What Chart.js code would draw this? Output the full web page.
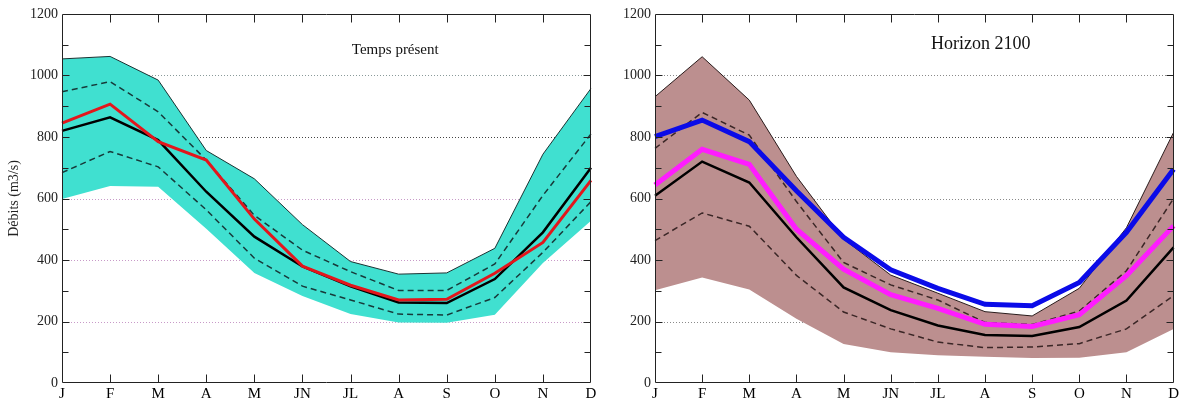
<!DOCTYPE html>
<html><head><meta charset="utf-8">
<script src="https://cdn.jsdelivr.net/npm/chart.js@4.4.1/dist/chart.umd.min.js"></script>
<style>
html,body{margin:0;padding:0;background:#fff;}
#wrap{position:relative;width:1181px;height:403px;overflow:hidden;}
.pane{position:absolute;top:0;height:403px;}
</style></head><body>
<div id="wrap">
  <div class="pane" style="left:0;width:600px"><canvas id="c1" width="600" height="403"></canvas></div>
  <div class="pane" style="left:600px;width:581px"><canvas id="c2" width="581" height="403"></canvas></div>
</div>
<script>
// ---- data ----
const months = ['J','F','M','A','M','JN','JL','A','S','O','N','D'];
const yTicks = [0,200,400,600,800,1000,1200];

// Temps présent
const presentMax    = [1054,1062,985,756,664,515,395,354,358,438,744,958];
const presentMin    = [598,641,638,502,358,283,224,197,196,222,390,528];
const presentQ75    = [947,980,882,725,545,432,362,301,301,387,610,810];
const presentQ25    = [684,753,703,563,406,315,270,224,221,278,425,590];
const presentMedian = [820,864,790,622,476,379,314,262,260,338,490,700];
const presentObs    = [845,907,785,725,533,380,318,270,272,357,457,659];

// Horizon 2100
const futureMax     = [931,1061,920,672,468,351,292,232,218,308,505,815];
const futureMin     = [302,343,304,209,127,100,90,85,81,82,100,176];
const futureQ75     = [763,880,806,590,392,319,270,197,190,234,365,600];
const futureQ25     = [463,553,510,350,231,176,133,115,117,128,176,284];
const futureMedian  = [609,720,652,474,311,237,187,156,153,182,268,441];
const futureMagenta = [644,760,711,500,370,287,243,191,184,222,349,511];
const futureBlue    = [801,855,785,625,474,368,308,256,251,327,490,695];

const SERIF = '"Liberation Serif","DejaVu Serif",serif';

const frameTicks = {
  id:'frameTicks',
  beforeDatasetsDraw(chart, args, opts){
    const {ctx, chartArea:a, scales:{y}} = chart;
    ctx.save();
    ctx.lineWidth = 1;
    ctx.setLineDash([1,2]);
    yTicks.forEach(v=>{
      if (v===0 || v===1200) return;
      const py = Math.round(y.getPixelForValue(v))+0.5;
      ctx.strokeStyle = opts.gridColor(v);
      ctx.beginPath(); ctx.moveTo(a.left,py); ctx.lineTo(a.right,py); ctx.stroke();
    });
    ctx.restore();
  },
  afterDraw(chart, args, opts){
    const {ctx, chartArea:a, scales:{x,y}} = chart;
    ctx.save();
    ctx.strokeStyle = '#222'; ctx.lineWidth = 1; ctx.setLineDash([]);
    const ln=(x1,y1,x2,y2)=>{ctx.beginPath();ctx.moveTo(x1,y1);ctx.lineTo(x2,y2);ctx.stroke();};
    const L=Math.round(a.left)+0.5, R=Math.round(a.right)-0.5, T=Math.round(a.top)+0.5, B=Math.round(a.bottom)-0.5;
    ln(L,T,R,T); ln(R,T,R,B); ln(R,B,L,B); ln(L,B,L,T);
    for(let i=1;i<months.length-1;i++){
      const px=Math.round(x.getPixelForValue(i))+0.5;
      ln(px,B,px,B-8); ln(px,T,px,T+8);
    }
    for(let v=100; v<1200; v+=100){
      const py=Math.round(y.getPixelForValue(v))+0.5;
      const len = v%200===0 ? 7 : 6;
      ln(L,py,L+len,py); ln(R,py,R-len,py);
    }
    ctx.fillStyle='#111';
    ctx.font = opts.titleFont;
    ctx.textAlign='center'; ctx.textBaseline='middle';
    ctx.fillText(opts.title, a.left + (a.right-a.left)*opts.titleFx, opts.titleY);
    ctx.restore();
  }
};

function baseOptions(yWidth, padRight, showTitle){
  return {
    responsive:false, animation:false, devicePixelRatio:1,
    layout:{padding:{left:0,right:padRight,top:14,bottom:0}},
    plugins:{legend:{display:false}, tooltip:{enabled:false}, filler:{propagate:false}},
    elements:{point:{radius:0}, line:{tension:0}},
    scales:{
      x:{
        offset:false,
        grid:{display:false, drawTicks:false}, border:{display:false},
        ticks:{color:'#000', font:{family:SERIF,size:15}, padding:2, maxRotation:0, autoSkip:false},
        afterFit(s){ s.height = 20; }
      },
      y:{
        min:0, max:1200,
        grid:{display:false, drawTicks:false}, border:{display:false},
        afterBuildTicks(s){ s.ticks = yTicks.map(v=>({value:v})); },
        ticks:{color:'#222', font:{family:SERIF,size:14}, padding:4, callback:v=>String(v)},
        title:{display:showTitle, text:'Débits (m3/s)', color:'#222', font:{family:SERIF,size:14}, padding:{top:6,bottom:0}},
        afterFit(s){ s.width = yWidth; }
      }
    }
  };
}

// ---- left chart ----
const opt1 = baseOptions(62, 9, true);
opt1.plugins.frameTicks = {
  title:'Temps présent', titleFont:'15px '+SERIF, titleFx:0.63, titleY:50,
  gridColor:v=> v<=600 ? '#c89ac8' : (v===800 ? '#444' : '#8a9a9a')
};
new Chart(document.getElementById('c1'), {
  type:'line',
  data:{labels:months, datasets:[
    {data:presentMax, borderColor:'#1b3333', borderWidth:1, backgroundColor:'#40e0d0', fill:'+1', order:10},
    {data:presentMin, borderColor:'rgba(0,0,0,0)', borderWidth:0, fill:false, order:11},
    {data:presentQ75, borderColor:'#173a3a', borderWidth:1.5, borderDash:[6,4], fill:false, order:5},
    {data:presentQ25, borderColor:'#173a3a', borderWidth:1.5, borderDash:[6,4], fill:false, order:5},
    {data:presentMedian, borderColor:'#000', borderWidth:2.5, fill:false, order:3},
    {data:presentObs, borderColor:'#e3161c', borderWidth:3, fill:false, order:1}
  ]},
  options:opt1,
  plugins:[frameTicks]
});

// ---- right chart ----
const opt2 = baseOptions(55, 5, false);
opt2.plugins.frameTicks = {
  title:'Horizon 2100', titleFont:'18px '+SERIF, titleFx:0.628, titleY:44,
  gridColor:v=> v===800 ? '#444' : '#8a8a8a'
};
new Chart(document.getElementById('c2'), {
  type:'line',
  data:{labels:months, datasets:[
    {data:futureMax, borderColor:'#2a1c1c', borderWidth:1, backgroundColor:'#bc8f8f', fill:'+1', order:10},
    {data:futureMin, borderColor:'rgba(0,0,0,0)', borderWidth:0, fill:false, order:11},
    {data:futureQ75, borderColor:'#3a2626', borderWidth:1.5, borderDash:[6,4], fill:false, order:5},
    {data:futureQ25, borderColor:'#3a2626', borderWidth:1.5, borderDash:[6,4], fill:false, order:5},
    {data:futureMedian, borderColor:'#000', borderWidth:2.5, fill:false, order:3},
    {data:futureMagenta, borderColor:'#ff1cff', borderWidth:5, fill:false, order:2},
    {data:futureBlue, borderColor:'#0b0be8', borderWidth:5, fill:false, order:1}
  ]},
  options:opt2,
  plugins:[frameTicks]
});
</script>
</body></html>
